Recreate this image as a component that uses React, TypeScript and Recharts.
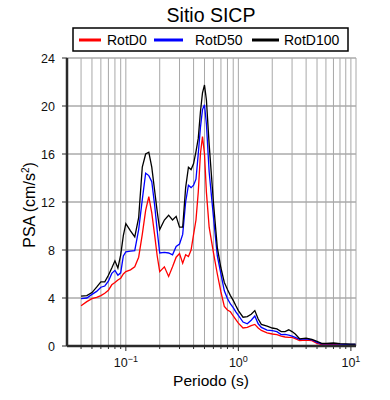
import React from 'react';
import { LineChart, Line, XAxis, YAxis, CartesianGrid } from 'recharts';

const periods = [0.04, 0.045, 0.05, 0.055, 0.06, 0.065, 0.07, 0.075, 0.08, 0.085, 0.09, 0.095, 0.1, 0.11, 0.12, 0.13, 0.14, 0.15, 0.16, 0.17, 0.18, 0.19, 0.2, 0.22, 0.24, 0.26, 0.28, 0.3, 0.32, 0.34, 0.36, 0.38, 0.4, 0.42, 0.44, 0.46, 0.48, 0.5, 0.52, 0.55, 0.6, 0.65, 0.7, 0.75, 0.8, 0.85, 0.9, 0.95, 1.0, 1.1, 1.2, 1.3, 1.4, 1.5, 1.6, 1.8, 2.0, 2.2, 2.4, 2.6, 2.8, 3.0, 3.2, 3.5, 4.0, 4.5, 5.0, 5.5, 6.0, 7.0, 8.0, 9.0, 10.0, 11.0];

const rotD0 = [3.35, 3.7, 3.95, 4.05, 4.2, 4.4, 4.65, 5.1, 5.3, 5.5, 5.65, 6.0, 6.2, 6.35, 6.6, 7.4, 9.3, 11.3, 12.45, 11.1, 9.3, 7.5, 6.2, 6.6, 5.8, 6.6, 7.4, 7.7, 6.9, 7.6, 7.45, 8.0, 9.3, 10.5, 12.8, 16.0, 17.45, 16.0, 12.8, 9.9, 7.8, 6.0, 4.5, 3.3, 3.0, 2.85, 2.5, 2.2, 1.9, 1.5, 1.55, 1.7, 1.8, 1.5, 1.3, 1.1, 1.0, 0.95, 0.82, 0.75, 0.72, 0.72, 0.62, 0.45, 0.5, 0.45, 0.22, 0.12, 0.12, 0.13, 0.1, 0.1, 0.1, 0.1];

const rotD50 = [3.95, 4.0, 4.3, 4.55, 4.9, 5.0, 5.4, 6.05, 6.3, 5.9, 6.1, 7.5, 7.85, 7.9, 7.95, 9.7, 12.2, 14.4, 14.2, 13.7, 11.8, 9.6, 7.75, 7.8, 7.75, 7.6, 8.3, 8.5, 9.3, 12.0, 13.4, 13.2, 13.4, 13.9, 16.0, 18.2, 19.7, 20.1, 18.5, 14.5, 10.8, 7.5, 6.0, 4.6, 3.95, 3.5, 3.2, 2.85, 2.55, 2.0, 1.85, 2.15, 2.5, 1.85, 1.55, 1.33, 1.28, 1.2, 0.95, 0.97, 0.9, 0.83, 0.72, 0.55, 0.6, 0.52, 0.3, 0.18, 0.18, 0.2, 0.15, 0.14, 0.13, 0.13];

const rotD100 = [4.15, 4.2, 4.45, 4.9, 5.35, 5.35, 5.9, 6.5, 7.1, 6.5, 7.6, 9.2, 10.2, 9.6, 9.1, 10.7, 14.9, 16.0, 16.15, 14.9, 13.0, 11.2, 9.7, 10.5, 10.9, 10.5, 10.8, 9.9, 9.9, 13.2, 14.9, 14.7, 15.2, 16.2, 17.3, 19.5, 21.1, 21.75, 20.5, 16.8, 12.0, 8.2, 6.5, 5.3, 4.7, 4.2, 3.8, 3.35, 2.95, 2.4, 2.45, 2.65, 2.95, 2.25, 1.8, 1.65, 1.5, 1.42, 1.2, 1.2, 1.35, 1.2, 1.0, 0.6, 0.65, 0.55, 0.38, 0.22, 0.22, 0.25, 0.2, 0.18, 0.15, 0.15];

const xTicks = [0.04, 0.05, 0.06, 0.07, 0.08, 0.09, 0.1, 0.2, 0.3, 0.4, 0.5, 0.6, 0.7, 0.8, 0.9, 1, 2, 3, 4, 5, 6, 7, 8, 9, 10];
const yTicks = [0, 4, 8, 12, 16, 20, 24];
const xDomain = [0.03, 11.1];
const yDomain = [0, 24];

const seriesNames = ['RotD0', 'RotD50', 'RotD100'];
const title = 'Sitio SICP';
const xLabel = 'Periodo (s)';

const data = periods.map((t, i) => ({ t, r: rotD0[i], b: rotD50[i], k: rotD100[i] }));

const FONT = '"Liberation Sans", Arial, Helvetica, sans-serif';
const FRAME = '#2a2a2a';

const isMajor = (v: number) => Math.abs(Math.log10(v) - Math.round(Math.log10(v))) < 1e-6;

const BottomTick = (props: any) => {
  const { x, y, payload } = props;
  const v = payload.value;
  const major = isMajor(v);
  const exp = Math.round(Math.log10(v));
  return (
    <g>
      <line x1={x} x2={x} y1={y} y2={y + (major ? 5 : 3)} stroke={FRAME} strokeWidth={1} />
      {major && (
        <text x={x} y={y + 21} textAnchor="middle" fontSize={12.5} fontFamily={FONT} fill="#111">
          10<tspan dy={-5} fontSize={9}>{exp < 0 ? '\u2212' + Math.abs(exp) : String(exp)}</tspan>
        </text>
      )}
    </g>
  );
};

const TopTick = (props: any) => {
  const { x, y, payload } = props;
  const major = isMajor(payload.value);
  return <line x1={x} x2={x} y1={y} y2={y - (major ? 6 : 3)} stroke={FRAME} strokeWidth={1} />;
};

const LeftTick = (props: any) => {
  const { x, y, payload } = props;
  return (
    <g>
      <line x1={x} x2={x - 5} y1={y} y2={y} stroke={FRAME} strokeWidth={1} />
      <text x={x - 12} y={y + 4.5} textAnchor="end" fontSize={12.5} fontFamily={FONT} fill="#111">
        {payload.value}
      </text>
    </g>
  );
};

const RightTick = (props: any) => {
  const { x, y } = props;
  return <line x1={x} x2={x + 4} y1={y} y2={y} stroke={FRAME} strokeWidth={1} />;
};

export default function App() {
  return (
    <div style={{ position: 'absolute', left: 0, top: 0, width: 390, height: 400, background: '#fff' }}>
      <LineChart width={390} height={400} data={data} margin={{ top: 58, right: 34, bottom: 24, left: 0 }}>
        <CartesianGrid vertical={false} stroke="#808080" strokeWidth={1} />
        <CartesianGrid horizontal={false} stroke="#a8a8a8" strokeWidth={1} />
        <XAxis
          dataKey="t"
          type="number"
          scale="log"
          domain={xDomain}
          allowDataOverflow
          ticks={xTicks}
          interval={0}
          height={30}
          tickSize={0}
          tickMargin={0}
          tickLine={false}
          tick={<BottomTick />}
          axisLine={{ stroke: FRAME, strokeWidth: 2.5 }}
        />
        <XAxis
          xAxisId="top"
          orientation="top"
          dataKey="t"
          type="number"
          scale="log"
          domain={xDomain}
          allowDataOverflow
          ticks={xTicks}
          interval={0}
          height={0}
          tickSize={0}
          tickMargin={0}
          tickLine={false}
          tick={<TopTick />}
          axisLine={{ stroke: FRAME, strokeWidth: 2.5 }}
        />
        <YAxis
          type="number"
          domain={yDomain}
          ticks={yTicks}
          interval={0}
          width={67}
          tickSize={0}
          tickMargin={0}
          tickLine={false}
          tick={<LeftTick />}
          axisLine={{ stroke: FRAME, strokeWidth: 2.5 }}
        />
        <YAxis
          yAxisId="right"
          orientation="right"
          type="number"
          domain={yDomain}
          allowDataOverflow
          ticks={yTicks}
          interval={0}
          width={0}
          tickSize={0}
          tickMargin={0}
          tickLine={false}
          tick={<RightTick />}
          axisLine={{ stroke: FRAME, strokeWidth: 2.5 }}
        />
        <Line type="linear" dataKey="r" stroke="#ff0000" strokeWidth={1.3} dot={false} isAnimationActive={false} />
        <Line type="linear" dataKey="b" stroke="#0000ff" strokeWidth={1.3} dot={false} isAnimationActive={false} />
        <Line type="linear" dataKey="k" stroke="#000000" strokeWidth={1.3} dot={false} isAnimationActive={false} />
      </LineChart>
      <svg width={390} height={400} style={{ position: 'absolute', left: 0, top: 0, pointerEvents: 'none' }}>
        <text x={211} y={21.5} textAnchor="middle" fontSize={19.5} fontFamily={FONT} fill="#000">{title}</text>
        <rect x={73} y={28} width={275} height={23} fill="#fff" stroke="#000" strokeWidth={1.5} />
        <line x1={79} x2={101} y1={40} y2={40} stroke="#ff0000" strokeWidth={3} />
        <text x={107} y={44.5} fontSize={14} fontFamily={FONT} fill="#000">{seriesNames[0]}</text>
        <line x1={154} x2={183} y1={40} y2={40} stroke="#0000ff" strokeWidth={3} />
        <text x={195} y={44.5} fontSize={14} fontFamily={FONT} fill="#000">{seriesNames[1]}</text>
        <line x1={252} x2={279} y1={40} y2={40} stroke="#000000" strokeWidth={3} />
        <text x={284} y={44.5} fontSize={14} fontFamily={FONT} fill="#000">{seriesNames[2]}</text>
        <text x={211} y={386} textAnchor="middle" fontSize={15.5} fontFamily={FONT} fill="#000">{xLabel}</text>
        <text transform="translate(35,205) rotate(-90)" textAnchor="middle" fontSize={16} fontFamily={FONT} fill="#000">
          PSA (cm/s<tspan dy={-6} fontSize={10}>2</tspan><tspan dy={6}>)</tspan>
        </text>
      </svg>
    </div>
  );
}
